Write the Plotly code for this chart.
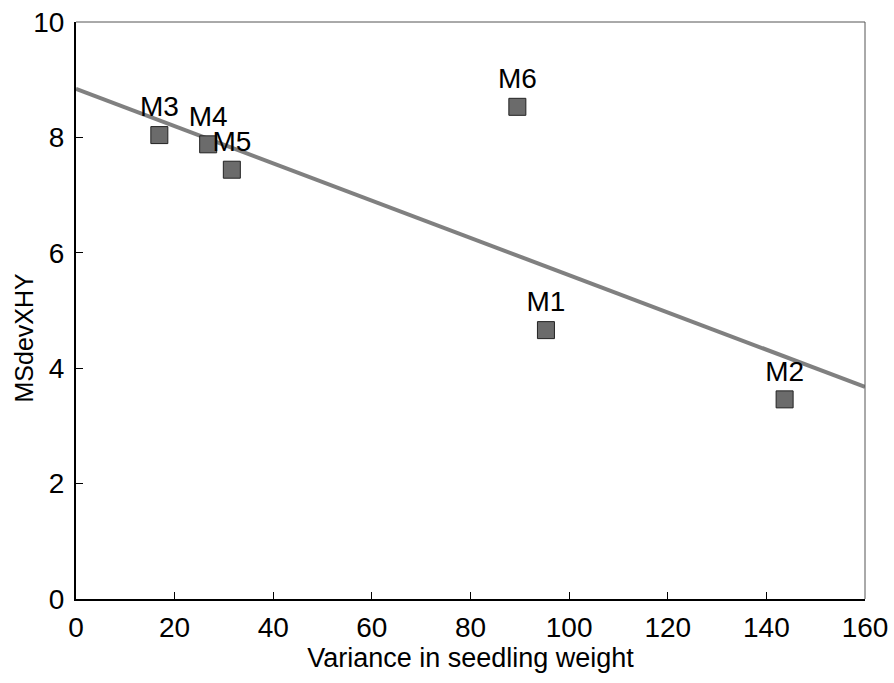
import numpy as np
import plotly.graph_objects as go

# Mutant lines: variance in seedling weight vs MSdevXHY
labels = ["M1", "M2", "M3", "M4", "M5", "M6"]
variance = [95.3, 143.7, 16.9, 26.8, 31.6, 89.5]
msdev = [4.66, 3.46, 8.04, 7.88, 7.44, 8.53]

x_ticks = [0, 20, 40, 60, 80, 100, 120, 140, 160]
y_ticks = [0, 2, 4, 6, 8, 10]

# Least-squares regression line across the full x range
slope, intercept = np.polyfit(variance, msdev, 1)
fit_x = [x_ticks[0], x_ticks[-1]]
fit_y = [intercept + slope * v for v in fit_x]

FONT = "Liberation Sans, Arial, Helvetica, sans-serif"

fig = go.Figure()
fig.add_trace(go.Scatter(
    x=fit_x, y=fit_y, mode="lines",
    line=dict(color="#808080", width=4),
    hoverinfo="skip", showlegend=False, cliponaxis=False,
))
fig.add_trace(go.Scatter(
    x=variance, y=msdev, mode="markers+text",
    text=labels, textposition="top center",
    textfont=dict(family=FONT, size=28, color="#000000"),
    marker=dict(symbol="square", size=17, color="#6b6b6b",
                line=dict(color="#222222", width=1)),
    showlegend=False, cliponaxis=False,
))

# Thin top and right frame edges
fig.add_shape(type="line", xref="paper", yref="paper", x0=0, x1=1, y0=1, y1=1,
              line=dict(color="#555555", width=1))
fig.add_shape(type="line", xref="paper", yref="paper", x0=1, x1=1, y0=0, y1=1,
              line=dict(color="#555555", width=1))

# Vertical y-axis title, placed a little below the axis midpoint
fig.add_annotation(
    text="MSdevXHY", textangle=-90, showarrow=False,
    xref="paper", yref="paper", x=0, y=0.5,
    xanchor="center", yanchor="middle", xshift=-53, yshift=-27,
    font=dict(family=FONT, size=25, color="#000000"),
)

fig.update_layout(
    width=894, height=683,
    margin=dict(l=76, r=29, t=22, b=84),
    paper_bgcolor="white", plot_bgcolor="white",
    font=dict(family=FONT, color="#000000"),
    xaxis=dict(
        range=[0, 160], tickvals=x_ticks, ticktext=[str(v) for v in x_ticks],
        ticks="inside", ticklen=7, tickwidth=1, tickcolor="#000000",
        showline=True, linewidth=2, linecolor="#000000", mirror=False,
        showgrid=False, zeroline=False, automargin=False,
        tickfont=dict(size=28), ticklabelstandoff=2,
        title=dict(text="Variance in seedling weight", font=dict(size=27), standoff=6),
    ),
    yaxis=dict(
        range=[0, 10], tickvals=y_ticks, ticktext=[str(v) for v in y_ticks],
        ticks="inside", ticklen=7, tickwidth=1, tickcolor="#000000",
        showline=True, linewidth=2, linecolor="#000000", mirror=False,
        showgrid=False, zeroline=False, automargin=False,
        tickfont=dict(size=28), ticklabelstandoff=4,
    ),
)

fig.write_html("out.html")
